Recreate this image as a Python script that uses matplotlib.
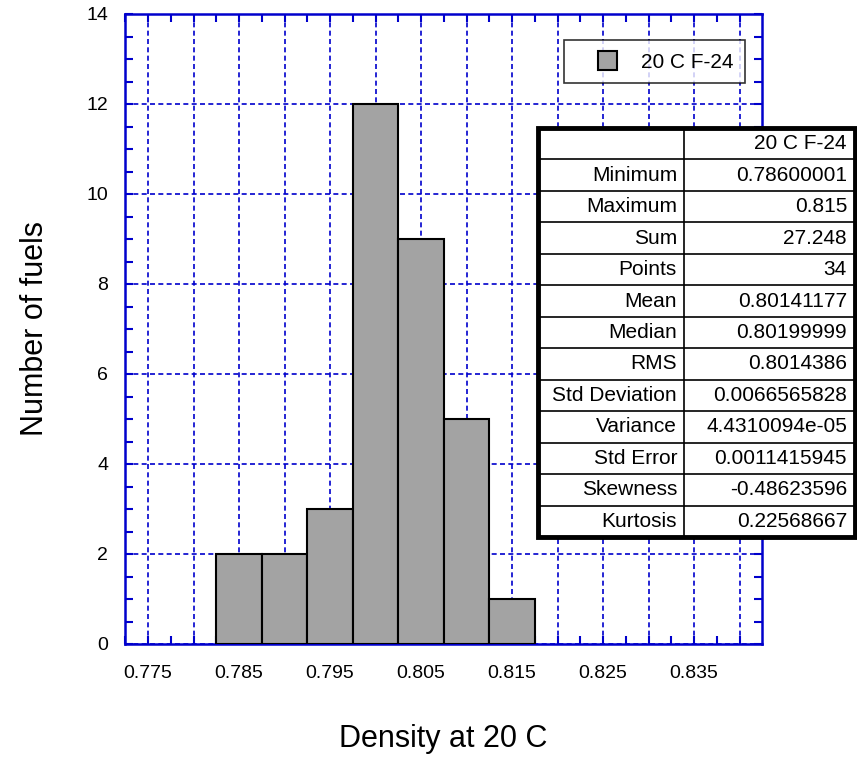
import numpy as np
import matplotlib.pyplot as plt
from matplotlib.ticker import MultipleLocator, FuncFormatter
from matplotlib.patches import Rectangle
from matplotlib.legend_handler import HandlerPatch

plt.rcParams['font.family'] = ['Liberation Sans', 'DejaVu Sans']

# Histogram of fuel densities
bin_edges = [0.7825, 0.7875, 0.7925, 0.7975, 0.8025, 0.8075, 0.8125, 0.8175]
counts = [2, 2, 3, 12, 9, 5, 1]
series_name = '20 C F-24'

# Summary statistics
stat_names = ['Minimum', 'Maximum', 'Sum', 'Points', 'Mean', 'Median', 'RMS',
              'Std Deviation', 'Variance', 'Std Error', 'Skewness', 'Kurtosis']
stat_values = ['0.78600001', '0.815', '27.248', '34', '0.80141177', '0.80199999',
               '0.8014386', '0.0066565828', '4.4310094e-05', '0.0011415945',
               '-0.48623596', '0.22568667']

blue = '#0000CC'

fig = plt.figure(figsize=(8.57, 7.57), dpi=100)
ax = fig.add_axes([125/857, 1-644/757, (762-125)/857, (644-14)/757])

lefts = np.array(bin_edges[:-1])
widths = np.diff(bin_edges)
bars = ax.bar(lefts, counts, width=widths, align='edge', color='#A3A3A3',
              edgecolor='black', linewidth=1.5, label=series_name, zorder=3)

ax.set_xlim(0.77247, 0.84247)
ax.set_ylim(0, 14)

ax.xaxis.set_major_locator(MultipleLocator(0.005))
ax.xaxis.set_minor_locator(MultipleLocator(0.0025))
ax.yaxis.set_major_locator(MultipleLocator(2))
ax.yaxis.set_minor_locator(MultipleLocator(0.5))

def xfmt(v, pos):
    k = int(round(v * 1000))
    return '%.3f' % v if k % 10 == 5 else ''

ax.xaxis.set_major_formatter(FuncFormatter(xfmt))
ax.tick_params(which='both', direction='in', top=True, right=True, color=blue,
               width=1.5, length=5.5, labelsize=14, labelcolor='black', pad=12)
ax.tick_params(axis='x', which='both', pad=15)
for s in ax.spines.values():
    s.set_color(blue)
    s.set_linewidth(1.8)
ax.grid(True, which='major', color=blue, linestyle=(0, (3, 2)), linewidth=1.2, zorder=1)
ax.set_axisbelow(True)

ax.set_xlabel('Density at 20 C', fontsize=22, labelpad=30)
ax.set_ylabel('Number of fuels', fontsize=22, labelpad=26)


# square legend key sitting at the right end of a wide handle box
def square_key(legend, orig_handle, xdescent, ydescent, width, height, fontsize):
    side = height
    return Rectangle((width - side - xdescent, -ydescent), side, side)


leg = ax.legend([bars.patches[0]], [series_name], loc='upper right',
                bbox_to_anchor=((745-125)/637, (644-40)/630),
                fontsize=15, frameon=True, fancybox=False, edgecolor='black',
                handlelength=2.0, handleheight=1.0, borderpad=0.55,
                handletextpad=1.15, borderaxespad=0,
                handler_map={Rectangle: HandlerPatch(patch_func=square_key)})
leg.get_frame().set_linewidth(1.2)
leg.set_zorder(5)

# Statistics table drawn in figure coordinates
tx0, tx1, tcol = 538, 855, 684
ty0, ty1 = 128, 537
nrows = len(stat_names) + 1
rh = (ty1 - ty0) / nrows

def fx(px):
    return px / 857

def fy(py):
    return 1 - py / 757

fig.patches.append(Rectangle((fx(tx0), fy(ty1)), fx(tx1) - fx(tx0), fy(ty0) - fy(ty1),
                             transform=fig.transFigure, facecolor='white',
                             edgecolor='black', linewidth=3.5, zorder=10))
fig.add_artist(plt.Line2D([fx(tcol), fx(tcol)], [fy(ty0), fy(ty1)],
                          transform=fig.transFigure, color='black', lw=1.2, zorder=11))
for i in range(1, nrows):
    yy = fy(ty0 + i * rh)
    fig.add_artist(plt.Line2D([fx(tx0), fx(tx1)], [yy, yy],
                              transform=fig.transFigure, color='black', lw=1.2, zorder=11))

rows = [('', series_name)] + list(zip(stat_names, stat_values))
for i, (name, val) in enumerate(rows):
    yc = fy(ty0 + (i + 0.5) * rh)
    fig.text(fx(tcol - 7), yc, name, ha='right', va='center', fontsize=15, zorder=12)
    fig.text(fx(tx1 - 8), yc, val, ha='right', va='center', fontsize=15, zorder=12)

fig.savefig('out.png', dpi=100)
